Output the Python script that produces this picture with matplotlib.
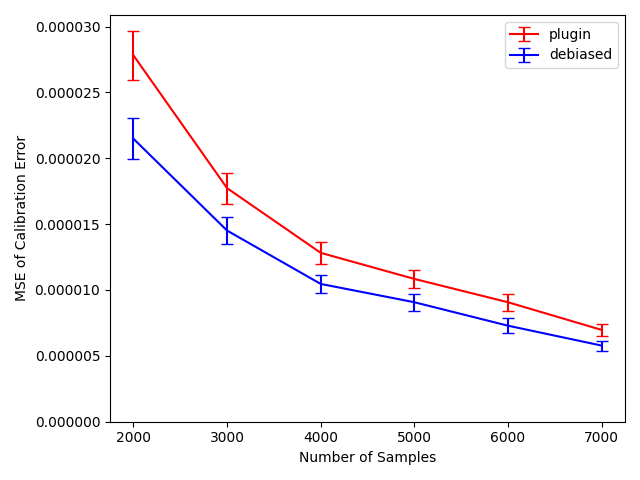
import matplotlib
matplotlib.use("Agg")
import matplotlib.pyplot as plt
from matplotlib.ticker import FormatStrFormatter

n_samples = [2000, 3000, 4000, 5000, 6000, 7000]

plugin_mse = [27.81e-6, 17.73e-6, 12.82e-6, 10.84e-6, 9.07e-6, 6.97e-6]
plugin_err = [1.85e-6, 1.18e-6, 0.84e-6, 0.71e-6, 0.63e-6, 0.48e-6]

debiased_mse = [21.48e-6, 14.51e-6, 10.46e-6, 9.07e-6, 7.29e-6, 5.78e-6]
debiased_err = [1.54e-6, 1.04e-6, 0.70e-6, 0.66e-6, 0.57e-6, 0.38e-6]

fig, ax = plt.subplots(figsize=(6.4, 4.8), dpi=100)
ax.errorbar(n_samples, plugin_mse, yerr=plugin_err, color="red", capsize=4, label="plugin")
ax.errorbar(n_samples, debiased_mse, yerr=debiased_err, color="blue", capsize=4, label="debiased")

ax.set_ylim(bottom=0)
ax.yaxis.set_major_formatter(FormatStrFormatter("%.6f"))
ax.set_xlabel("Number of Samples")
ax.set_ylabel("MSE of Calibration Error")
ax.legend(loc="upper right")

fig.tight_layout()
fig.savefig("out.png")
